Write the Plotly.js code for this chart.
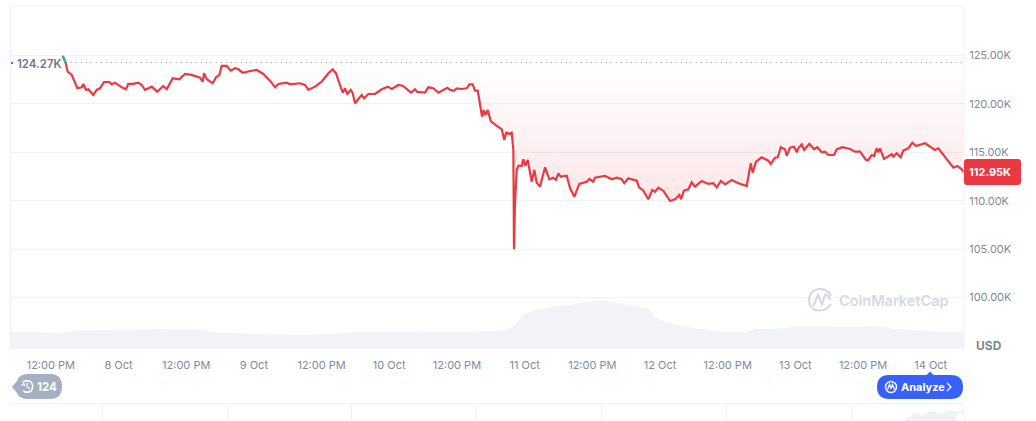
<!DOCTYPE html>
<html><head><meta charset="utf-8">
<style>html,body{margin:0;padding:0;background:#fff;overflow:hidden}#c{width:1036px;height:421px}</style>
<script src="https://cdn.plot.ly/plotly-3.0.1.min.js"></script></head>
<body><div id="c"></div>
<script>
// hours since 8 Oct 00:00
const priceHours = [-9.89,-9.36,-9.01,-8.30,-7.30,-6.52,-6.24,-5.76,-5.35,-4.47,-3.87,-3.28,-2.57,-1.63,-1.21,-0.62,0.57,1.33,1.74,2.62,3.51,4.11,4.70,5.89,6.88,7.94,8.55,9.61,10.78,11.79,12.98,14.45,14.93,15.16,15.64,16.70,17.29,17.87,18.30,19.18,19.89,20.66,21.24,22.02,23.32,24.50,25.67,26.86,27.75,28.33,29.82,30.41,32.18,33.07,33.65,34.84,36.03,37.20,37.98,38.56,39.15,39.75,40.16,40.57,41.17,41.52,41.93,43.12,43.53,44.29,45.48,46.67,47.73,48.44,49.61,50.39,51.86,52.57,52.98,54.34,54.93,55.81,56.70,58.30,58.78,59.49,59.96,60.85,61.74,62.20,62.80,63.21,63.69,64.09,64.45,64.75,65.03,65.46,65.99,67.05,67.94,68.40,68.76,69.11,69.71,70.00,70.12,70.30,70.60,70.89,71.49,71.77,72.13,72.55,73.26,73.72,74.14,74.73,75.62,76.38,77.09,77.57,77.98,78.40,79.47,80.05,80.82,81.70,83.01,83.48,84.18,84.48,86.26,87.44,88.33,89.21,89.68,90.39,91.88,92.28,93.05,93.93,94.64,95.12,95.71,96.59,97.78,98.67,99.43,99.73,100.26,101.03,101.63,102.21,103.40,104.57,105.46,106.06,106.82,107.53,108.72,109.89,111.38,112.09,112.44,113.03,114.04,115.21,115.64,116.40,116.88,117.41,118.17,118.47,119.06,119.77,120.25,120.53,121.13,121.54,122.48,123.31,123.90,124.68,125.26,125.85,126.86,127.34,128.33,129.70,130.59,131.47,132.54,132.94,133.54,133.95,134.43,134.71,135.01,135.72,137.09,137.37,137.97,138.68,139.14,140.03,140.74,141.40,143.00,143.88,144.77,145.35,146.24,147.42,148.01,148.72,149.50,149.82];
const priceK = [124.95,124.19,123.33,122.99,121.61,121.71,122.06,121.44,121.51,120.92,121.44,121.61,122.26,122.26,122.02,122.19,121.71,121.51,122.06,122.06,122.19,121.95,121.44,121.78,121.26,121.85,121.51,122.64,122.54,123.09,122.99,122.71,122.29,123.16,122.54,122.13,122.75,122.99,123.92,123.92,123.43,123.68,123.57,123.22,123.40,123.50,123.09,122.40,121.71,122.06,122.19,122.02,122.13,121.95,121.44,121.78,122.29,123.16,123.57,123.16,122.13,121.16,121.61,121.02,121.44,121.10,120.06,120.92,120.58,121.02,121.02,121.51,121.78,121.54,121.95,121.88,121.16,121.51,121.23,121.16,121.71,121.61,121.16,121.67,121.44,121.36,121.61,121.54,121.61,122.02,122.02,121.36,121.36,120.06,118.68,119.37,118.85,119.37,118.23,117.72,117.38,116.27,117.10,116.89,117.03,115.24,104.98,109.76,113.17,113.59,113.59,114.28,113.59,114.20,111.96,113.17,111.86,111.45,113.45,112.21,112.38,112.14,112.83,112.48,112.58,111.28,110.41,111.73,111.96,112.24,111.96,112.38,112.55,112.21,112.38,112.21,111.80,112.31,112.07,111.38,111.03,110.15,111.11,110.93,111.34,111.03,109.97,110.15,110.59,110.15,111.03,111.18,111.90,111.45,112.04,111.73,111.80,111.38,112.04,111.69,112.14,111.80,111.52,113.86,112.89,114.03,114.48,114.13,113.79,114.44,114.48,115.52,115.31,114.65,115.48,115.58,115.00,115.41,115.83,115.24,115.86,115.31,115.52,115.00,115.06,114.72,114.72,115.31,115.52,115.34,115.06,115.06,114.20,114.20,114.72,114.62,115.41,115.00,115.41,114.31,114.79,114.55,114.90,114.48,115.17,115.41,115.99,115.65,115.93,115.58,115.24,115.41,114.72,113.93,113.41,113.59,113.24,112.95];
const openHours = [-9.89,-9.36];
const openK = [124.95,124.27];
const baselineHours = [-9.36,149.9];
const baselineK = [124.27,124.27];
const volumeHours = [-19.15,-15.7,-10.37,-6.83,7.36,14.45,17.1,23.3,26,32.2,37.5,41.9,49.9,62.3,64.1,67.6,69.4,70.3,71.2,71.7,73.4,76.3,79.3,82.3,85.9,88.2,90.5,93.8,95,97.1,100,102.9,106.5,111.3,113,117.8,120.6,129.5,135.5,137.9,143.7,149.9];
const volumeB = [16.7,17,16,18.7,19.7,19.5,16.3,15.7,14.7,14,15,16.7,17.7,16.7,18,18.3,20,24,30.7,34,38,41.7,43.7,46.7,48.3,46.3,43.7,40.7,32.3,26.3,23,20.7,17.3,16.7,20,20.7,22.7,22,22.7,20,18,16.7];
const navX = [0,4,8,12,16,20,24,28,32,36,40,44,48,52,56,58];
const navY = [2,4,6,8,5,7,9,10,8,7,9,11,10,9,10,11];
const xTickVals = [-12,0,12,24,36,48,60,72,84,96,108,120,132,144];
const xTickText = ['12:00 PM','8 Oct','12:00 PM','9 Oct','12:00 PM','10 Oct','12:00 PM','11 Oct','12:00 PM','12 Oct','12:00 PM','13 Oct','12:00 PM','14 Oct'];
const yTickVals = [100,105,110,115,120,125];
const yTickText = ['100.00K','105.00K','110.00K','115.00K','120.00K','125.00K'];
const lastLabel = '112.95K', openLabel = '124.27K', currency = 'USD';

const W=1036,H=421,FONT='Inter, sans-serif',GREY='#808a9d',GRID='#eff2f5',RED='#ea3943';
const px=x=>x/W, py=y=>1-y/H, P=(x,y)=>px(x).toFixed(5)+','+py(y).toFixed(5);
const pathOf=(cmds)=>cmds.map(c=>c[0]+c.slice(1).map(p=>P(p[0],p[1])).join(' ')).join(' ');
const sh=(path,fill,line,lw)=>({type:'path',xref:'paper',yref:'paper',path:pathOf(path),fillcolor:fill||'rgba(0,0,0,0)',line:{color:line||'rgba(0,0,0,0)',width:lw||0}});
const ln=(x0,y0,x1,y1,c,w)=>({type:'line',xref:'paper',yref:'paper',x0:px(x0),y0:py(y0),x1:px(x1),y1:py(y1),line:{color:c,width:w||1}});
const circ=(cx,cy,r,fill,line,lw)=>({type:'circle',xref:'paper',yref:'paper',x0:px(cx-r),x1:px(cx+r),y0:py(cy+r),y1:py(cy-r),fillcolor:fill||'rgba(0,0,0,0)',line:{color:line||'rgba(0,0,0,0)',width:lw||0}});
const rrect=(x0,y0,x1,y1,r)=>[['M',[x0+r,y0]],['L',[x1-r,y0]],['Q',[x1,y0],[x1,y0+r]],['L',[x1,y1-r]],['Q',[x1,y1],[x1-r,y1]],['L',[x0+r,y1]],['Q',[x0,y1],[x0,y1-r]],['L',[x0,y0+r]],['Q',[x0,y0],[x0+r,y0]],['Z']];

const traces=[
 {type:'scatter',mode:'lines',x:volumeHours,y:volumeB,yaxis:'y2',fill:'tozeroy',fillcolor:'#f1f3f6',line:{width:0,color:'#f1f3f6'},hoverinfo:'skip'},
 {type:'scatter',mode:'lines',x:baselineHours,y:baselineK,line:{color:'#8a93a5',width:1,dash:'1px 4px'},hoverinfo:'skip'},
 {type:'scatter',mode:'lines',x:priceHours,y:priceK,line:{color:RED,width:2.2},fill:'tonexty',
  fillgradient:{type:'vertical',start:124.27,stop:105,colorscale:[[0,'rgba(234,57,67,0)'],[1,'rgba(234,57,67,0.17)']]},hoverinfo:'skip'},
 {type:'scatter',mode:'lines',x:openHours,y:openK,line:{color:'#16c784',width:2.2},hoverinfo:'skip'},
 {type:'scatter',mode:'lines',x:navX,y:navY,xaxis:'x2',yaxis:'y3',fill:'tozeroy',fillcolor:'#eff2f5',line:{width:0,color:'#eff2f5'},hoverinfo:'skip'}
];

const shapes=[
 ln(10.5,6,964,6,GRID), ln(10.5,6,10.5,349,GRID), ln(964,6,964,349,GRID),
 ln(10.5,403.5,964,403.5,GRID), ln(964,403.5,964,421,GRID),
 ...[102.5,227.5,351.5,476.5,601.5,726.5,851.5].map(x=>ln(x,403.5,x,421,GRID)),
 circ(960,418,5,'#fff','#eff2f5',1),
 ln(11,63,13,63,RED,2),
 // price tag
 sh(rrect(964,159,1021,185,3),RED),
 // history pill
 sh([['M',[12,387]],['L',[17,381]],['Q',[19,374],[28,374]],['L',[50,374]],['Q',[62,374],[62,386.5]],['Q',[62,399],[50,399]],['L',[28,399]],['Q',[19,399],[17,393]],['Z']],'#a6b0c3'),
 sh([['M',[23,382]],['Q',[27,379.5],[31,382]],['Q',[34.5,386],[31,391]],['Q',[27,393.5],[23,391]]],null,'#fff',1.5),
 sh([['M',[21,385]],['L',[24.5,385]],['L',[23,382]]],null,'#fff',1.2),
 sh([['M',[27,383]],['L',[27,387]],['L',[30,388.5]]],null,'#fff',1.2),
 // analyze pill
 sh([['M',[926.5,375]],['L',[930,371.5]],['L',[933.5,375]],['Z']],'#3861fb'),
 sh(rrect(877,375,963,399,12),'#3861fb'),
 circ(891,387,5.5,null,'#fff',1.4),
 sh([['M',[887.5,389.5]],['L',[889.5,384.5]],['L',[891,388]],['L',[892.5,384.5]],['L',[894.5,389.5]]],null,'#fff',1.3),
 sh([['M',[947,383]],['L',[951,387]],['L',[947,391]]],null,'#fff',1.2),
 // logo
 sh([['M',[831,296]],['Q',[827,288.5],[819,289]],['Q',[809.5,290],[809,300]],['Q',[809.5,310],[819,310.5]],['Q',[827,310.5],[831,304]]],null,'#d3dae6',2.2),
 sh([['M',[813.5,306]],['L',[818,295]],['L',[822,304]],['L',[825,295]],['Q',[828,294],[830,300]]],null,'#d3dae6',2.2)
];
const ann=(x,y,text,size,color,weight,anchor,yref)=>({xref:'paper',yref:yref||'paper',x:px(x),y:yref?y:py(y),text,showarrow:false,xanchor:anchor||'left',yanchor:'middle',font:{family:FONT,size,color,weight:weight||400}});
const annotations=[
 {...ann(14.5,124.27,openLabel,11.5,'#6b778e',600,'left','y'),yshift:-1},
 ann(967,priceK[priceK.length-1],lastLabel,11,'#fff',700,'left','y'),
 ann(974,345,currency,12,GREY,700),
 ann(35,386.5,'124',11.5,'#fff',700),
 ann(899,387,'Analyze',11,'#fff',700),
 ann(837,300,'CoinMarketCap',14.5,'#d3dae6',600)
];
const layout={width:W,height:H,autosize:false,margin:{l:0,r:0,t:0,b:0,pad:0},paper_bgcolor:'#fff',plot_bgcolor:'#fff',showlegend:false,hovermode:false,
 xaxis:{domain:[px(10.5),px(964)],range:[-19.15,149.9],tickmode:'array',tickvals:xTickVals,ticktext:xTickText,showgrid:false,zeroline:false,showline:false,ticks:'outside',ticklen:6,tickcolor:'rgba(0,0,0,0)',tickfont:{family:FONT,size:11,color:GREY},anchor:'y',fixedrange:true},
 yaxis:{domain:[py(349),py(6)],range:[94.68,130.11],side:'right',tickmode:'array',tickvals:yTickVals,ticktext:yTickText,gridcolor:GRID,gridwidth:1,zeroline:false,showline:false,ticks:'outside',ticklen:2,tickcolor:'rgba(0,0,0,0)',tickfont:{family:FONT,size:11,color:GREY},anchor:'x',fixedrange:true},
 yaxis2:{overlaying:'y',range:[0,343],visible:false,fixedrange:true},
 xaxis2:{domain:[px(905),px(963)],range:[0,58],visible:false,anchor:'y3',fixedrange:true},
 yaxis3:{domain:[0,11/H],range:[0,11],visible:false,anchor:'x2',fixedrange:true},
 shapes,annotations};
Plotly.newPlot('c',traces,layout,{displayModeBar:false,staticPlot:true});
</script></body></html>
